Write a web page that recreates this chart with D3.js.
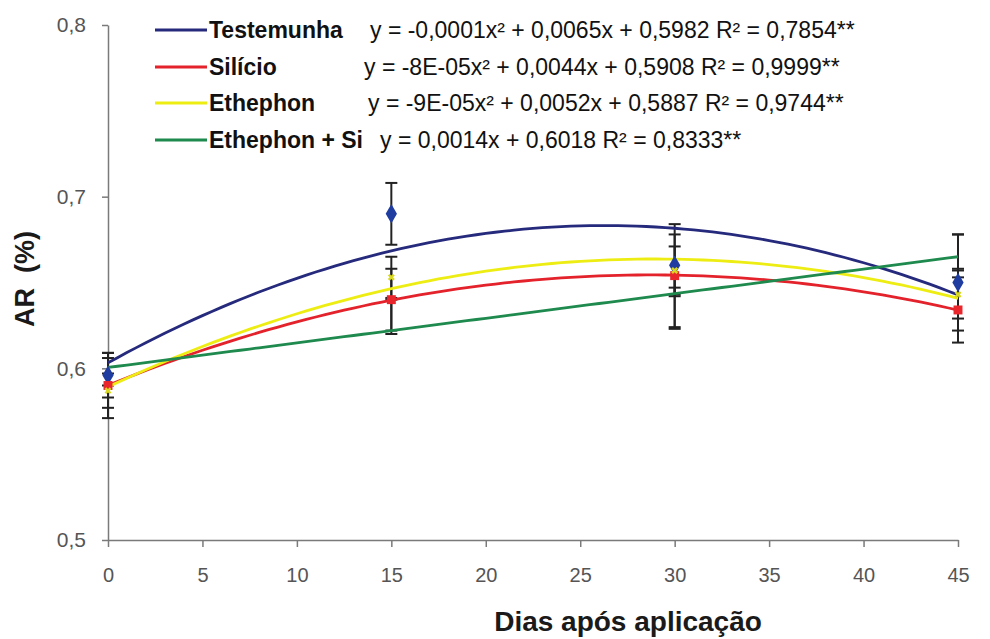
<!DOCTYPE html>
<html>
<head>
<meta charset="utf-8">
<script src="https://cdn.jsdelivr.net/npm/d3@7"></script>
<style>
  body { margin: 0; background: #fff; }
  text { font-family: "Liberation Sans", Arial, sans-serif; }
</style>
</head>
<body>
<div id="chart"></div>
<script>
let w = 990;
let h = 639;

// data
let days = [0, 15, 30, 45];
let seriesNames = ["Testemunha", "Silício", "Ethephon", "Ethephon + Si"];
let testemunha = [0.596, 0.690, 0.660, 0.650];
let silicio = [0.590, 0.640, 0.654, 0.634];
let ethephon = [0.587, 0.653, 0.657, 0.643];
let ethephonSi = [0.598, 0.630, 0.635, 0.668];
let testemunhaErr = [0.013, 0.018, 0.018, 0.028];
let silicioErr = [0.019, 0.018, 0.030, 0.019];
let ethephonErr = [0.010, 0.012, 0.014, 0.014];
let ethephonSiErr = [0.008, 0.010, 0.012, 0.010];
let degrees = [2, 2, 2, 1];
let equations = [
  "y = -0,0001x² + 0,0065x + 0,5982 R² = 0,7854**",
  "y = -8E-05x² + 0,0044x + 0,5908 R² = 0,9999**",
  "y = -9E-05x² + 0,0052x + 0,5887 R² = 0,9744**",
  "y = 0,0014x + 0,6018 R² = 0,8333**"
];
let xTicks = [0, 5, 10, 15, 20, 25, 30, 35, 40, 45];
let yTicks = [0.5, 0.6, 0.7, 0.8];

let colors = ["#262a7c", "#e3222b", "#eded14", "#1f8a4e"];
let markerColors = ["#1f3ca0", "#e8262b", "#d8d820", "none"];
let markerTypes = [d3.symbolDiamond, d3.symbolSquare, d3.symbolCross, d3.symbolTriangle];
let markerSizes = [110, 80, 30, 0];

let values = [testemunha, silicio, ethephon, ethephonSi];
let errs = [testemunhaErr, silicioErr, ethephonErr, ethephonSiErr];

let series = seriesNames.map((name, i) => ({
  name: name,
  color: colors[i],
  mcolor: markerColors[i],
  marker: markerTypes[i],
  msize: markerSizes[i],
  degree: degrees[i],
  eq: equations[i],
  points: days.map((d, j) => ({x: d, y: values[i][j], e: errs[i][j]}))
}));

// least squares polynomial fit (trend line, like excel)
function polyfit(pts, deg) {
  let n = deg + 1;
  let A = [];
  for (let r = 0; r < n; r++) {
    A.push([]);
    for (let c = 0; c <= n; c++) A[r].push(0);
  }
  pts.forEach(p => {
    for (let r = 0; r < n; r++) {
      for (let c = 0; c < n; c++) A[r][c] += Math.pow(p.x, r + c);
      A[r][n] += p.y * Math.pow(p.x, r);
    }
  });
  for (let i = 0; i < n; i++) {
    for (let k = i + 1; k < n; k++) {
      let f = A[k][i] / A[i][i];
      for (let c = i; c <= n; c++) A[k][c] -= f * A[i][c];
    }
  }
  let coef = new Array(n).fill(0);
  for (let i = n - 1; i >= 0; i--) {
    let s = A[i][n];
    for (let c = i + 1; c < n; c++) s -= A[i][c] * coef[c];
    coef[i] = s / A[i][i];
  }
  return coef;
}

let viz = d3.select("#chart")
  .append("svg")
  .attr("width", w)
  .attr("height", h)
  .style("background-color", "#fff");

let xScale = d3.scaleLinear().domain([0, 45]).range([108, 958]);
let yScale = d3.scaleLinear().domain([0.5, 0.8]).range([540, 25]);

// axes
let xAxisGroup = viz.append("g")
  .attr("transform", "translate(0," + yScale(0.5) + ")")
  .call(d3.axisBottom(xScale).tickValues(xTicks).tickSize(7).tickPadding(21).tickSizeOuter(0));
xAxisGroup.selectAll("text").attr("font-size", 20).attr("fill", "#555")
  .style("font-family", "Liberation Sans Narrow, Liberation Sans, sans-serif");

let yAxisGroup = viz.append("g")
  .attr("transform", "translate(" + xScale(0) + ",0)")
  .call(d3.axisLeft(yScale).tickValues(yTicks).tickSize(6).tickPadding(16).tickSizeOuter(0)
    .tickFormat(d => d.toFixed(1).replace(".", ",")));
yAxisGroup.selectAll("text").attr("font-size", 21).attr("fill", "#555");

viz.selectAll(".domain").attr("stroke", "#7a7a7a").attr("stroke-width", 1.5);
viz.selectAll(".tick line").attr("stroke", "#7a7a7a").attr("stroke-width", 1.5);

// axis titles
viz.append("text")
  .attr("x", 628)
  .attr("y", 631)
  .attr("text-anchor", "middle")
  .attr("font-size", 28)
  .attr("font-weight", "bold")
  .attr("fill", "#1a1a1a")
  .text("Dias após aplicação");

viz.append("text")
  .attr("transform", "translate(34,279) rotate(-90)")
  .attr("text-anchor", "middle")
  .attr("font-size", 27)
  .attr("font-weight", "bold")
  .attr("fill", "#1a1a1a")
  .attr("xml:space", "preserve")
  .text("AR  (%)");

// error bars
let errGroup = viz.append("g");
series.forEach(s => {
  s.points.forEach(p => {
    let cx = xScale(p.x);
    errGroup.append("line")
      .attr("x1", cx).attr("x2", cx)
      .attr("y1", yScale(p.y - p.e)).attr("y2", yScale(p.y + p.e))
      .attr("stroke", "#222").attr("stroke-width", 2);
    [p.y - p.e, p.y + p.e].forEach(v => {
      errGroup.append("line")
        .attr("x1", cx - 6).attr("x2", cx + 6)
        .attr("y1", yScale(v)).attr("y2", yScale(v))
        .attr("stroke", "#222").attr("stroke-width", 2);
    });
  });
});

// trend lines
let line = d3.line().x(d => xScale(d[0])).y(d => yScale(d[1]));
series.forEach(s => {
  let coef = polyfit(s.points, s.degree);
  let curve = d3.range(0, 45.01, 0.5).map(x => {
    let y = 0;
    coef.forEach((c, k) => { y += c * Math.pow(x, k); });
    return [x, y];
  });
  viz.append("path")
    .datum(curve)
    .attr("d", line)
    .attr("fill", "none")
    .attr("stroke", s.color)
    .attr("stroke-width", 2.8);
});

// markers
series.filter(s => s.msize > 0).forEach(s => {
  viz.selectAll(null).data(s.points).enter()
    .append("path")
    .attr("transform", d => "translate(" + xScale(d.x) + "," + yScale(d.y) + ")" + (s.marker === d3.symbolCross ? " rotate(45)" : ""))
    .attr("d", d3.symbol().type(s.marker).size(s.msize))
    .attr("fill", s.mcolor);
});

// legend
let legendY = [30, 67, 103, 140];
let eqX = [370, 364, 368, 380];
let legend = viz.append("g");
series.forEach((s, i) => {
  legend.append("line")
    .attr("x1", 155).attr("x2", 207)
    .attr("y1", legendY[i]).attr("y2", legendY[i])
    .attr("stroke", s.color).attr("stroke-width", 3);
  legend.append("text")
    .attr("x", 209).attr("y", legendY[i] + 8)
    .attr("font-size", 23).attr("font-weight", "bold").attr("fill", "#111")
    .text(s.name);
  legend.append("text")
    .attr("x", eqX[i]).attr("y", legendY[i] + 8)
    .attr("font-size", 23).attr("fill", "#111")
    .text(s.eq);
});
</script>
</body>
</html>
